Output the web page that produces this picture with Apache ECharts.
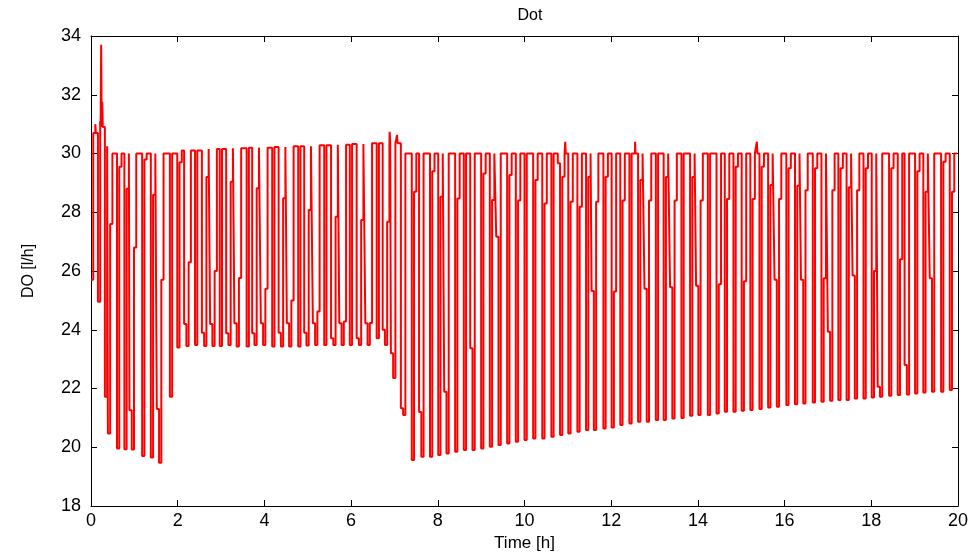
<!DOCTYPE html>
<html>
<head>
<meta charset="utf-8">
<script src="https://cdn.jsdelivr.net/npm/echarts@6/dist/echarts.min.js"></script>
<style>html,body{margin:0;padding:0;background:#fff}#c{width:974px;height:560px}</style>
</head>
<body>
<div id="c"></div>
<script>
// ---- data ----
const title = 'Dot';
const xName = 'Time [h]';
const yName = 'DO [l/h]';
const xTicks = [0, 2, 4, 6, 8, 10, 12, 14, 16, 18, 20];
const yTicks = [18, 20, 22, 24, 26, 28, 30, 32, 34];

// each aeration cycle: time of the drop [h], minimum, step on the way down, step on the way up, level after recovery
const dipTime = [0.00,0.16,0.32,0.39,0.60,0.77,0.94,1.18,1.38,1.57,1.82,1.99,
  2.20,2.40,2.61,2.80,2.97,3.17,3.36,3.59,3.77,3.97,4.18,4.38,4.57,4.78,4.97,5.17,5.38,5.59,5.78,5.97,6.18,6.38,6.59,6.78,6.97,7.20,
  7.40,7.62,7.82,8.01,8.20,8.40,8.60,8.80,9.00,9.20,9.40,9.60,9.80,10.00,10.20,10.41,10.62,10.82,11.01,11.22,11.42,11.60,11.82,12.01,12.21,12.42,
  12.62,12.82,13.03,13.21,13.41,13.62,13.82,14.01,14.23,14.43,14.62,14.82,15.01,15.21,15.42,15.62,15.82,16.04,16.24,16.43,16.65,16.85,17.05,
  17.24,17.43,17.62,17.82,18.01,18.20,18.41,18.61,18.82,19.01,19.20,19.40,19.61,19.81];
const dipMin = [25.7,24.95,21.72,20.47,19.96,19.93,19.92,19.70,19.65,19.47,21.72,23.40,
  23.45,23.48,23.45,23.45,23.45,23.48,23.43,23.43,23.48,23.48,23.43,23.43,23.43,23.43,23.46,23.48,23.48,23.48,23.48,23.48,23.48,23.48,23.71,23.48,22.36,21.10,
  19.57,19.68,19.68,19.74,19.79,19.85,19.91,19.91,19.96,20.02,20.08,20.13,20.19,20.25,20.30,20.30,20.36,20.42,20.47,20.53,20.59,20.59,20.64,20.67,20.76,20.81,
  20.87,20.87,20.93,20.93,20.98,21.00,21.07,21.10,21.10,21.15,21.21,21.21,21.24,21.27,21.30,21.35,21.38,21.44,21.46,21.49,21.52,21.55,21.58,
  21.61,21.61,21.66,21.66,21.69,21.72,21.75,21.78,21.80,21.83,21.86,21.89,21.89,21.95];
const dipPre = [null,null,null,null,null,null,21.26,null,null,21.3,null,null,
  24.2,null,23.9,24.2,null,23.88,24.22,null,23.88,24.22,null,23.9,24.22,null,23.9,24.22,null,23.71,24.22,null,23.71,24.22,null,24.0,23.2,21.33,
  null,21.2,null,null,21.89,null,null,23.37,null,null,27.17,null,null,null,null,null,null,29.67,null,null,null,25.32,null,null,null,null,
  null,25.4,null,null,25.45,null,null,25.5,null,null,null,null,null,null,null,null,25.7,null,null,25.7,null,null,23.93,
  null,null,25.85,null,null,22.06,null,null,22.8,null,null,25.75,null,null];
const dipPost = [null,null,null,27.6,29.55,28.8,26.8,29.8,28.6,25.7,null,29.7,
  26.3,null,29.2,26.0,null,29.04,25.76,null,28.82,25.4,null,28.48,25.0,null,28.08,24.62,null,27.85,24.28,null,27.74,24.23,null,27.68,null,null,
  28.7,null,29.4,28.53,null,28.47,null,null,29.32,28.42,null,29.27,28.4,null,29.1,28.3,null,29.21,28.36,28.19,29.21,28.36,29.21,25.3,28.4,null,
  29.1,28.4,null,29.2,28.4,null,29.2,28.4,null,25.55,28.45,29.55,25.65,28.45,29.55,28.93,28.45,29.5,28.9,28.75,29.5,25.75,28.75,
  29.5,28.85,28.75,29.5,26.0,null,29.5,26.4,null,29.4,28.7,null,29.72,28.7];
const dipTop = [30.7,30.9,30.25,30.0,30.0,30.0,30.0,30.0,30.0,30.0,30.0,30.1,
  30.1,30.1,30.15,30.15,30.15,30.18,30.18,30.2,30.2,30.2,30.22,30.22,30.25,30.25,30.25,30.28,30.28,30.3,30.3,30.32,30.32,30.35,30.35,30.35,30.35,30.0,
  30.0,30.0,30.0,30.0,30.0,30.0,30.0,30.0,30.0,30.0,30.0,30.0,30.0,30.0,30.0,30.0,30.0,30.0,30.0,30.0,30.0,30.0,30.0,30.0,30.0,30.0,
  30.0,30.0,30.0,30.0,30.0,30.0,30.0,30.0,30.0,30.0,30.0,30.0,30.0,30.0,30.0,30.0,30.0,30.0,30.0,30.0,30.0,30.0,30.0,
  30.0,30.0,30.0,30.0,30.0,30.0,30.0,30.0,30.0,30.0,30.0,30.0,30.0,30.0];
// short upward spikes
const spikeTime = [0.10, 0.21, 0.235, 0.26, 6.89, 7.06, 10.94, 12.55, 15.36];
const spikeVal  = [31.0, 31.1, 33.7, 31.76, 30.74, 30.63, 30.4, 30.4, 30.4];
const endTime = 19.97;

// ---- build the polyline from the arrays ----
const W = 0.052, B = 0.052, S = 0.012;
const events = [];
dipTime.forEach((t, i) => events.push({t, kind: 'dip', i}));
spikeTime.forEach((t, i) => events.push({t, kind: 'spike', i}));
events.sort((a, b) => a.t - b.t);
const pts = [];
let cur = null;
for (const e of events) {
  if (e.kind === 'dip') {
    const i = e.i, t = e.t;
    if (cur === null) {
      pts.push([t, dipMin[i]]);
    } else if (dipPre[i] !== null) {
      pts.push([t - W, cur], [t - W, dipPre[i]], [t, dipPre[i]]);
    } else {
      pts.push([t, cur]);
    }
    pts.push([t, dipMin[i]], [t + B, dipMin[i]]);
    if (dipPost[i] !== null) {
      pts.push([t + B, dipPost[i]], [t + B + W, dipPost[i]], [t + B + W, dipTop[i]]);
    } else {
      pts.push([t + B, dipTop[i]]);
    }
    cur = dipTop[i];
  } else {
    const t = e.t, v = spikeVal[e.i];
    pts.push([t, cur], [t, v], [t + S, v], [t + S, cur]);
  }
}
pts.push([endTime, cur]);

const FONT = "'Liberation Sans Narrow', 'Liberation Sans', Arial, sans-serif";
const axisBase = {
  type: 'value',
  axisLine: {show: true, onZero: false, lineStyle: {color: '#000', width: 1}},
  axisTick: {show: true, inside: true, length: 6, lineStyle: {color: '#000'}},
  splitLine: {show: false}
};
const chart = echarts.init(document.getElementById('c'), null, {renderer: 'canvas'});
chart.setOption({
  animation: false,
  backgroundColor: '#fff',
  title: {text: title, left: 525, top: 3, textAlign: 'center',
    textStyle: {fontFamily: FONT, fontSize: 16, fontWeight: 'normal', color: '#000'}},
  grid: {left: 91, right: 16, top: 36, bottom: 54},
  xAxis: [
    Object.assign({}, axisBase, {min: xTicks[0], max: xTicks[xTicks.length - 1], interval: xTicks[1] - xTicks[0], position: 'bottom',
      name: xName, nameLocation: 'middle', nameGap: 29,
      nameTextStyle: {fontFamily: FONT, fontSize: 17, color: '#000'},
      axisLabel: {margin: 6, fontFamily: FONT, fontSize: 18, color: '#000'}}),
    Object.assign({}, axisBase, {min: xTicks[0], max: xTicks[xTicks.length - 1], interval: xTicks[1] - xTicks[0], position: 'top',
      axisLabel: {show: false}})
  ],
  yAxis: [
    Object.assign({}, axisBase, {min: yTicks[0], max: yTicks[yTicks.length - 1], interval: yTicks[1] - yTicks[0], position: 'left',
      name: yName, nameLocation: 'middle', nameGap: 54,
      nameTextStyle: {fontFamily: FONT, fontSize: 16, color: '#000'},
      axisLabel: {margin: 10, fontFamily: FONT, fontSize: 18, color: '#000'}}),
    Object.assign({}, axisBase, {min: yTicks[0], max: yTicks[yTicks.length - 1], interval: yTicks[1] - yTicks[0], position: 'right',
      axisLabel: {show: false}})
  ],
  series: [{
    type: 'line', data: pts, xAxisIndex: 0, yAxisIndex: 0,
    showSymbol: false, symbol: 'none', sampling: null,
    lineStyle: {color: '#ff0000', width: 2}, z: 1
  }]
});
</script>
</body>
</html>
